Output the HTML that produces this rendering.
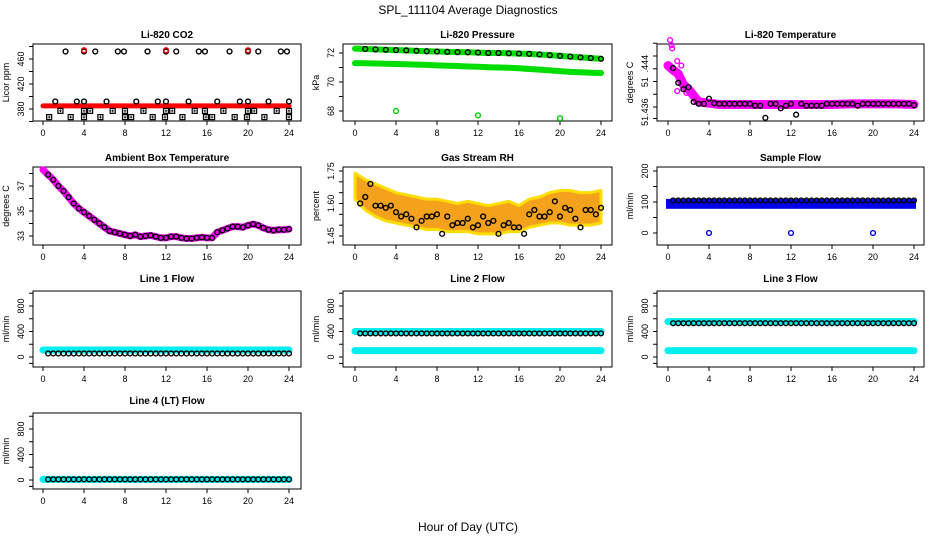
<!DOCTYPE html>
<html><head><meta charset="utf-8"><style>
html,body{margin:0;padding:0;background:#fff}
svg{display:block;font-family:"Liberation Sans",Arial,sans-serif}
</style></head><body>
<svg id="c" width="936" height="540" viewBox="0 0 936 540">
<text x="468" y="14" text-anchor="middle" font-size="12">SPL_111104  Average Diagnostics</text>
<text x="468" y="531" text-anchor="middle" font-size="12">Hour of Day (UTC)</text>
</svg>
<script>
// ---- data ----
const xTicks=[0,4,8,12,16,20,24];
const ambT=[38.3,37.9,37.5,37.0,36.6,36.1,35.6,35.2,34.9,34.6,34.3,34.0,33.7,33.4,33.3,33.2,33.1,33.0,33.1,32.95,33.0,33.05,32.95,32.85,32.85,32.95,32.95,32.85,32.8,32.8,32.85,32.9,32.85,32.85,33.3,33.45,33.6,33.75,33.75,33.7,33.85,33.95,33.85,33.65,33.5,33.45,33.5,33.5,33.55];
const coHighT=[2.2,4,5.1,7.3,7.9,10.2,12,13,15.2,15.8,18.2,20,21,23.2,23.8];
const coRedT=[4,12,20];
const coMidT=[1.2,3.3,4,6.2,9.1,11.2,12,14.2,17,19.2,20,22,24];
const coLowT1=[1.7,4,4.6,6.8,8,9.8,12,12.6,14.8,15.8,17.6,20,20.6,22.8,24];
const coLowT2=[0.6,2.7,4,5.6,8,8.6,10.7,11.9,13.6,15.9,16.5,18.7,19.9,21.6,24];
const coBand=[385,385,385,385,385,385,385,385,385,385,385,385,385,385,385,385,385,385,385,385,385,385,385,385,385];
const presBlack=[72.3,72.28,72.25,72.22,72.2,72.18,72.15,72.12,72.1,72.08,72.06,72.05,72.03,72.0,72.0,71.98,71.96,71.94,71.9,71.85,71.8,71.75,71.7,71.65,71.6];
const presGreenLow=[71.3,71.29,71.28,71.26,71.24,71.22,71.2,71.18,71.15,71.12,71.1,71.07,71.05,71.02,71.0,70.98,70.95,70.9,70.85,70.8,70.75,70.7,70.67,70.64,70.62];
const presOutT=[4,12,20];
const presOut=[68.0,67.7,67.5];
const liTBlack=[51.4421,51.4398,51.4388,51.4391,51.4368,51.4365,51.4365,51.4373,51.4366,51.4365,51.4365,51.4365,51.4365,51.4365,51.4365,51.4365,51.4362,51.4362,51.4343,51.4365,51.4365,51.4358,51.4362,51.4365,51.4348,51.4365,51.4362,51.4362,51.4362,51.4362,51.4365,51.4365,51.4365,51.4365,51.4365,51.4365,51.4362,51.4365,51.4365,51.4365,51.4365,51.4365,51.4365,51.4365,51.4365,51.4365,51.4365,51.4363];
const liTMagT=[0,0.5,1,1.5,2,2.5,3,4,5,6,8,10,12,14,16,18,20,22,24];
const liTMag=[51.4425,51.4418,51.4412,51.4395,51.4388,51.4378,51.4368,51.4366,51.4364,51.4364,51.4364,51.4364,51.4364,51.4364,51.4364,51.4365,51.4365,51.4365,51.4364];
const rhBlack=[1.60,1.63,1.69,1.59,1.59,1.58,1.59,1.56,1.54,1.55,1.53,1.49,1.52,1.54,1.54,1.55,1.46,1.54,1.50,1.51,1.51,1.53,1.49,1.50,1.54,1.51,1.52,1.46,1.50,1.51,1.49,1.49,1.46,1.55,1.57,1.54,1.54,1.56,1.61,1.54,1.58,1.57,1.53,1.49,1.57,1.57,1.55,1.58];
const rhUpper=[1.74,1.71,1.69,1.67,1.65,1.64,1.63,1.62,1.62,1.61,1.60,1.61,1.60,1.59,1.60,1.61,1.59,1.62,1.63,1.65,1.66,1.66,1.65,1.65,1.66];
const rhLower=[1.62,1.57,1.54,1.52,1.51,1.50,1.49,1.48,1.48,1.47,1.47,1.47,1.46,1.46,1.46,1.47,1.47,1.49,1.50,1.51,1.51,1.50,1.50,1.50,1.51];
const sfBlack=[105,105,105,105,105,105,105,105,105,105,105,105,105,105,105,105,105,105,105,105,105,105,105,105,105];
const sfBlueHi=110, sfBlueLo=78;
const sfOutT=[4,12,20];
const sfOut=[0,0,0];
const line1Cyan=110, line1Black=55;
const line2CyanHi=400, line2CyanLo=100, line2Black=370;
const line3CyanHi=555, line3CyanLo=100, line3Black=530;
const line4Cyan=10, line4Black=10;

// ---- layout ----
const svg=document.getElementById('c');
const NS='http://www.w3.org/2000/svg';
const colX=[[33,301,43,289],[343,612,355,601],[657,924,668,914]];
const rowY=[[44,121,34],[167,245,157],[291,367,278],[413,489,400]];
function el(tag,at,parent){const e=document.createElementNS(NS,tag);for(const k in at)e.setAttribute(k,at[k]);(parent||svg).appendChild(e);return e;}
const hrs48=[];for(let i=1;i<=48;i++)hrs48.push(i*0.5);
const hrs49=[];for(let i=0;i<=48;i++)hrs49.push(i*0.5);
const hrs25=[];for(let i=0;i<=24;i++)hrs25.push(i);

function panel(c,r,title,ylab,v1,y1,v2,y2,yticks,yLabels,name){
  const [bl,br,x0,x24]=colX[c];const [bt,bb,ty]=rowY[r];
  const g=el('g',{});
  
  
  const X=t=>x0+t/24*(x24-x0);
  const Y=v=>y1+(v-v1)/(v2-v1)*(y2-y1);
  const t=el('text',{x:(bl+br)/2,y:ty+4,'text-anchor':'middle','font-size':10,'font-weight':'bold'},g);t.textContent=title;
  
  
  const box=el('rect',{x:bl,y:bt,width:br-bl,height:bb-bt,fill:'none',stroke:'#000','stroke-width':1},g);
  
  
  const xa=el('g',{},g);
  
  
  el('line',{x1:X(0),x2:X(24),y1:bb,y2:bb,stroke:'#000'},xa);
  xTicks.forEach(v=>{el('line',{x1:X(v),x2:X(v),y1:bb,y2:bb+4,stroke:'#000'},xa);
    const l=el('text',{x:X(v),y:bb+15,'text-anchor':'middle','font-size':9},xa);l.textContent=v;});
  const ya=el('g',{},g);
  
  
  yticks.forEach(v=>{el('line',{x1:bl-4,x2:bl,y1:Y(v),y2:Y(v),stroke:'#000'},ya);});
  yLabels.forEach(([txt,v])=>{const yy=Y(v);const l=el('text',{x:bl-9,y:yy,'text-anchor':'middle','font-size':9,transform:`rotate(-90 ${bl-9} ${yy})`},ya);l.textContent=txt;});
  const yl=el('text',{x:bl-24,y:(bt+bb)/2,'text-anchor':'middle','font-size':9,transform:`rotate(-90 ${bl-24} ${(bt+bb)/2})`},g);yl.textContent=ylab;
  
  
  const clip=el('g',{},g);
  return {g:clip,X,Y};
}
function circles(p,ts,vs,col,name,r,sw){const g=el('g',{},p.g);
  
  
  ts.forEach((t,i)=>{el('circle',{cx:p.X(t),cy:p.Y(vs[i]),r:r||2.4,fill:'none',stroke:col,'stroke-width':sw||1.4},g);});}
function band(p,ts,vs,col,w,name){const pl=el('polyline',{points:ts.map((t,i)=>p.X(t)+','+p.Y(vs[i])).join(' '),fill:'none',stroke:col,'stroke-width':w,'stroke-linejoin':'round','stroke-linecap':'round'},p.g);
  
  }
function crosses(p,ts,v,name){const g=el('g',{},p.g);
  
  
  ts.forEach(t=>{const x=p.X(t),y=p.Y(v);el('rect',{x:x-2.5,y:y-2.5,width:5,height:5,fill:'none',stroke:'#000','stroke-width':1.2},g);el('path',{d:`M${x-1.5} ${y}H${x+1.5}M${x} ${y-1.5}V${y+1.5}`,stroke:'#000','stroke-width':0.8},g);});}
const cnst=(n,v)=>Array(n).fill(v);

// CO2
let p=panel(0,0,'Li-820 CO2','Licor ppm',380,109,460,59,[360,380,400,420,440,460,480],[['380',380],['420',420],['460',460]],'co2');
band(p,hrs25,coBand,'#ff0000',5,'co2-red-band');
circles(p,coHighT,cnst(coHighT.length,472),'#000','co2-high-points');
circles(p,coRedT,cnst(3,474),'#ff0000','co2-red-points');
circles(p,coMidT,cnst(coMidT.length,392),'#000','co2-mid-points');
crosses(p,coLowT1,377,'co2-low-points-1');
crosses(p,coLowT2,367,'co2-low-points-2');

// Pressure
p=panel(1,0,'Li-820 Pressure','kPa',72,53,68,111,[68,69,70,71,72],[['68',68],['70',70],['72',72]],'pressure');
band(p,hrs25,presGreenLow,'#00dd00',6,'pressure-green-low-band');
band(p,hrs25,presBlack,'#00dd00',6,'pressure-green-high-band');
circles(p,hrs25.slice(1),presBlack.slice(1),'#000','pressure-black-points');
circles(p,presOutT,presOut,'#00cc00','pressure-outliers');

// Li-820 Temperature
p=panel(2,0,'Li-820 Temperature','degrees C',51.436,107,51.444,56,[51.4342,51.436,51.438,51.440,51.442,51.444,51.446],[],'li820-temp');
[['51.436',51.4352],['51',51.4399],['.444',51.4428]].forEach(([txt,v])=>{const yy=p.Y(v);const l=el('text',{x:648,y:yy,'text-anchor':'middle','font-size':9,transform:`rotate(-90 648 ${yy})`});l.textContent=txt;});
band(p,liTMagT,liTMag,'#ff00ff',9,'li820-temp-magenta-band');
circles(p,[0.2,0.35,0.4,0.9,1.3,0.9,1.8,2.6],[51.4465,51.4457,51.4452,51.4432,51.4425,51.4385,51.4382,51.4375],'#ff00ff','li820-temp-magenta-points');
circles(p,hrs48,liTBlack,'#000','li820-temp-black-points');

// Ambient
p=panel(0,1,'Ambient Box Temperature','degrees C',33,236,37,186,[33,34,35,36,37,38],[['33',33],['35',35],['37',37]],'ambient');
band(p,hrs49,ambT,'#ff00ff',7,'ambient-magenta-band');
circles(p,hrs48,ambT.slice(1),'#000','ambient-black-points');

// RH
p=panel(1,1,'Gas Stream RH','percent',1.45,236,1.75,171,[1.45,1.50,1.55,1.60,1.65,1.70,1.75],[['1.45',1.45],['1.60',1.60],['1.75',1.75]],'rh');
const poly=hrs25.map((t,i)=>p.X(t)+','+p.Y(rhUpper[i])).concat(hrs25.slice().reverse().map((t,j)=>p.X(t)+','+p.Y(rhLower[24-j])));
const rb=el('polygon',{points:poly.join(' '),fill:'#f4a21c',stroke:'#ffdd00','stroke-width':3,'stroke-linejoin':'round'},p.g);


circles(p,hrs48,rhBlack,'#000','rh-black-points');

// Sample flow
p=panel(2,1,'Sample Flow','ml/min',0,233,200,171,[0,50,100,150,200],[['0',0],['100',100],['200',200]],'sample-flow');
const sb=el('rect',{x:p.X(0)-2,y:p.Y(sfBlueHi),width:p.X(24)-p.X(0)+4,height:p.Y(sfBlueLo)-p.Y(sfBlueHi),fill:'#0000ee'},p.g);


circles(p,hrs48,hrs48.map((_, i)=>sfBlack[Math.floor(i/2)]),'#000','sample-flow-black-points');
circles(p,sfOutT,sfOut,'#0000ee','sample-flow-outliers');

// Flows
const fl=[[0,2,'Line 1 Flow','line1',[line1Cyan],line1Black],[1,2,'Line 2 Flow','line2',[line2CyanHi,line2CyanLo],line2Black],[2,2,'Line 3 Flow','line3',[line3CyanHi,line3CyanLo],line3Black],[0,3,'Line 4 (LT) Flow','line4',[line4Cyan],line4Black]];
fl.forEach(([c,r,title,nm,cy,bk])=>{
  const z=r==2?357:480;
  const q=panel(c,r,title,'ml/min',0,z,800,z-51,[-100,0,200,400,600,800,1000],[['0',0],['400',400],['800',800]],nm);
  cy.forEach((v,i)=>band(q,[0,24],[v,v],'#00eeee',7,nm+'-cyan-band-'+i));
  circles(q,hrs48,cnst(48,bk),'#000',nm+'-black-points');
});
</script>
</body></html>
